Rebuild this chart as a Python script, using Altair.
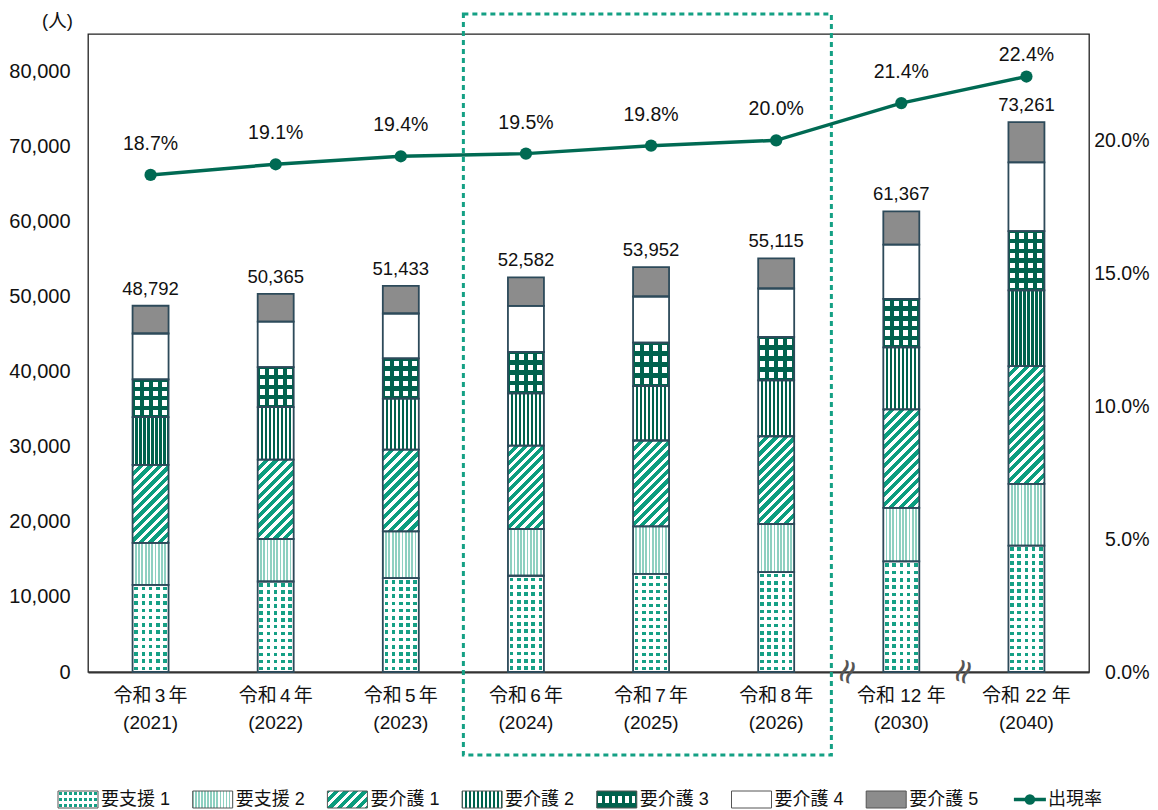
import json
import altair as alt
import pandas as pd

# ---------------- data ----------------
era_labels = ["令和\u20063\u2006年", "令和\u20064\u2006年", "令和\u20065\u2006年", "令和\u20066\u2006年",
              "令和\u20067\u2006年", "令和\u20068\u2006年", "令和 12 年", "令和 22 年"]
years = ["(2021)", "(2022)", "(2023)", "(2024)", "(2025)", "(2026)", "(2030)", "(2040)"]
series_names = ["要支援 1", "要支援 2", "要介護 1", "要介護 2", "要介護 3", "要介護 4", "要介護 5"]

shien1 = [11600, 12060, 12510, 12820, 13080, 13310, 14750, 16850]
shien2 = [5600, 5660, 6220, 6230, 6320, 6410, 7120, 8220]
kaigo1 = [10400, 10580, 10910, 11120, 11440, 11690, 13130, 15680]
kaigo2 = [6350, 6990, 6770, 6950, 7250, 7440, 8250, 10100]
kaigo3 = [5030, 5340, 5380, 5510, 5790, 5780, 6450, 7900]
kaigo4 = [6120, 6060, 5970, 6140, 6150, 6460, 7250, 9150]
kaigo5 = [3692, 3675, 3673, 3812, 3922, 4025, 4417, 5361]
totals = [48792, 50365, 51433, 52582, 53952, 55115, 61367, 73261]
rates = [0.187, 0.191, 0.194, 0.195, 0.198, 0.200, 0.214, 0.224]
rate_name = "出現率"

cats = [f"{a}|{b}" for a, b in zip(era_labels, years)]
series_values = [shien1, shien2, kaigo1, kaigo2, kaigo3, kaigo4, kaigo5]

rows = []
for si, (name, vals) in enumerate(zip(series_names, series_values)):
    for c, v in zip(cats, vals):
        rows.append({"cat": c, "series": name, "order": si, "value": v})
df = pd.DataFrame(rows)
tot_df = pd.DataFrame({"cat": cats, "total": totals})
rate_df = pd.DataFrame({"cat": cats, "rate": rates})
one = pd.DataFrame({"k": [0]})

# ---------------- style / layout ----------------
FONT = "'Liberation Sans', 'Noto Sans CJK JP', sans-serif"
W, H = 1001, 638
YMAX = 85000
RMAX = 0.24
BAND = W / len(cats)
BAR_W = 36

TEAL_DOT = "#15A085"
TEAL_LIGHT = "#8ED0C1"
TEAL_DIAG = "#0B9D7E"
DARK = "#00624D"
GRAY = "#8C8C8C"
LINE = "#006A53"
STROKE = "#2D4A5A"
BOX = "#14A084"
CLEAR = "rgba(255,255,255,0)"
TXT = "#111111"


def periodic_stops(n, line_col, gap_col, gap_frac):
    pts = []
    for k in range(n):
        a = k / n
        b = (k + (1 - gap_frac) / 2) / n
        c = (k + (1 + gap_frac) / 2) / n
        d = (k + 1) / n
        pts += [(a, line_col), (b, line_col), (b, gap_col), (c, gap_col), (c, line_col), (d, line_col)]
    return [alt.GradientStop(color=col, offset=round(min(max(o, 0.0), 1.0), 5)) for o, col in pts]


def grad_x(n, line_col, gap_col, gap_frac):
    return alt.LinearGradient(gradient="linear", stops=periodic_stops(n, line_col, gap_col, gap_frac),
                              x1=0, y1=0.5, x2=1, y2=0.5)


def grad_y(n, line_col, gap_col, gap_frac):
    return alt.LinearGradient(gradient="linear", stops=periodic_stops(n, line_col, gap_col, gap_frac),
                              x1=0.5, y1=0, x2=0.5, y2=1)


def grad_diag(w, h, period, line_col, gap_col, gap_frac):
    n = max(1, round((w + h) / period))
    c = (w + h) / (w * w + h * h)
    return alt.LinearGradient(gradient="linear", stops=periodic_stops(n, line_col, gap_col, gap_frac),
                              x1=0, y1=0, x2=round(c * w, 5), y2=round(c * h, 5))


x_scale = alt.Scale(domain=cats, paddingInner=0, paddingOuter=0)
x_axis = alt.Axis(title=None, labelExpr="split(datum.label, '|')", labelAngle=0, labelFont=FONT,
                  labelFontSize=19, labelLineHeight=27, labelColor=TXT, labelPadding=14,
                  ticks=False, domain=True, domainColor="#333333", domainWidth=2, grid=False)
y_scale = alt.Scale(domain=[0, YMAX], nice=False, zero=True)
y_axis = alt.Axis(values=list(range(0, 80001, 10000)), labelExpr="format(datum.value, ',')",
                  ticks=False, domain=False,
                  grid=False, labelFont=FONT, labelFontSize=20, labelColor=TXT, labelPadding=18,
                  title="(人)", titleAngle=0, titleX=-31, titleY=-14, titleAlign="center",
                  titleBaseline="middle", titleFont=FONT, titleFontSize=18.5, titleFontWeight="normal",
                  titleColor=TXT)
r_scale = alt.Scale(domain=[0, RMAX], nice=False, zero=True)
r_axis = alt.Axis(orient="right", values=[0, 0.05, 0.10, 0.15, 0.20], format=".1%", ticks=False,
                  domain=False, grid=False, labelFont=FONT, labelFontSize=19.5, labelColor=TXT,
                  labelAlign="right", labelPadding=60, title=None)

X_ENC = alt.X("cat:N", scale=x_scale, axis=x_axis)


def stacked():
    return alt.Chart(df).transform_stack(
        stack="value", groupby=["cat"], as_=["y0", "y1"],
        sort=[alt.SortField("order", order="ascending")])


def bar_layer(expr, **mark):
    return stacked().transform_filter(expr).mark_bar(size=BAR_W, **mark).encode(
        x=X_ENC,
        y=alt.Y("y1:Q", scale=y_scale, axis=y_axis),
        y2="y0:Q")


def s_expr(s):
    return f"datum.series == {json.dumps(s)}"


def sc_expr(s, c):
    return f"datum.series == {json.dumps(s)} && datum.cat == {json.dumps(c)}"


def seg_h(v):
    return v / YMAX * H


layers = []

# 要支援1 : dots (teal base + white line grids)
s = series_names[0]
layers.append(bar_layer(s_expr(s), fill=TEAL_DOT, strokeWidth=0))
layers.append(bar_layer(s_expr(s), fill=grad_x(5, "white", CLEAR, 0.5), strokeWidth=0))
for c, v in zip(cats, shien1):
    layers.append(bar_layer(sc_expr(s, c), fill=grad_y(max(1, round(seg_h(v) / 7.2)), "white", CLEAR, 0.5),
                            strokeWidth=0))

# 要支援2 : light vertical stripes
layers.append(bar_layer(s_expr(series_names[1]), fill=grad_x(11, TEAL_LIGHT, "white", 0.45), strokeWidth=0))

# 要介護1 : diagonal stripes
s = series_names[2]
for c, v in zip(cats, kaigo1):
    layers.append(bar_layer(sc_expr(s, c), fill=grad_diag(BAR_W, seg_h(v), 9.5, TEAL_DIAG, "white", 0.45),
                            strokeWidth=0))

# 要介護2 : dark vertical stripes
layers.append(bar_layer(s_expr(series_names[3]), fill=grad_x(9, DARK, "white", 0.42), strokeWidth=0))

# 要介護3 : dark grid with white squares
s = series_names[4]
layers.append(bar_layer(s_expr(s), fill=grad_x(4, DARK, "white", 0.55), strokeWidth=0))
for c, v in zip(cats, kaigo3):
    layers.append(bar_layer(sc_expr(s, c), fill=grad_y(max(1, round(seg_h(v) / 10)), DARK, CLEAR, 0.55),
                            strokeWidth=0))

# 要介護4 / 要介護5
layers.append(bar_layer(s_expr(series_names[5]), fill="white", strokeWidth=0))
layers.append(bar_layer(s_expr(series_names[6]), fill=GRAY, strokeWidth=0))

# outlines
layers.append(stacked().mark_bar(size=BAR_W, fill="white", fillOpacity=0, stroke=STROKE, strokeWidth=1.8).encode(
    x=X_ENC, y=alt.Y("y1:Q", scale=y_scale, axis=y_axis), y2="y0:Q"))

# totals
layers.append(alt.Chart(tot_df).mark_text(baseline="middle", dy=-17, font=FONT, fontSize=18.5, color=TXT).encode(
    x=X_ENC,
    y=alt.Y("total:Q", scale=y_scale, axis=y_axis),
    text=alt.Text("total:Q", format=",")))

# dashed highlight box around 2024-2026
layers.append(alt.Chart(one).mark_rect(fill="white", fillOpacity=0, stroke=BOX, strokeWidth=3,
                                       strokeDash=[5, 4]).encode(
    x=alt.value(3 * BAND), x2=alt.value(3 * BAND + 368), y=alt.value(-20), y2=alt.value(721)))

# axis break marks
for bx in [760, 876]:
    layers.append(alt.Chart(one).mark_text(text="≈", angle=290, font="DejaVu Sans", fontSize=34,
                                           color="#555555", baseline="middle", align="center").encode(
        x=alt.value(bx), y=alt.value(H)))

# legend
LEG_X0 = -30
LEG_STEP = 134.7
LEG_Y = 765.5
SW_W, SW_H = 40, 17
legend_fills = [
    [TEAL_DOT, grad_x(8, "white", CLEAR, 0.5), grad_y(3, "white", CLEAR, 0.5)],
    [grad_x(13, TEAL_LIGHT, "white", 0.45)],
    [grad_diag(SW_W, SW_H, 9.5, TEAL_DIAG, "white", 0.45)],
    [grad_x(10, DARK, "white", 0.42)],
    [grad_x(6, DARK, "white", 0.55), grad_y(1, DARK, CLEAR, 0.4)],
    ["white"],
    [GRAY],
]
for i, (name, fills) in enumerate(zip(series_names, legend_fills)):
    x0 = LEG_X0 + LEG_STEP * i
    for f in fills:
        layers.append(alt.Chart(one).mark_rect(fill=f, strokeWidth=0).encode(
            x=alt.value(x0), x2=alt.value(x0 + SW_W),
            y=alt.value(LEG_Y - SW_H / 2), y2=alt.value(LEG_Y + SW_H / 2)))
    layers.append(alt.Chart(one).mark_rect(fill="white", fillOpacity=0, stroke="#555555", strokeWidth=1).encode(
        x=alt.value(x0), x2=alt.value(x0 + SW_W),
        y=alt.value(LEG_Y - SW_H / 2), y2=alt.value(LEG_Y + SW_H / 2)))
    layers.append(alt.Chart(one).mark_text(align="left", baseline="middle", font=FONT, fontSize=18,
                                           color=TXT).encode(
        x=alt.value(x0 + SW_W + 3), y=alt.value(LEG_Y), text=alt.value(name)))

lx0 = LEG_X0 + LEG_STEP * 7 + 13
layers.append(alt.Chart(one).mark_rule(color=LINE, strokeWidth=3.5).encode(
    x=alt.value(lx0), x2=alt.value(lx0 + 32), y=alt.value(LEG_Y)))
layers.append(alt.Chart(one).mark_circle(color=LINE, opacity=1, size=110).encode(
    x=alt.value(lx0 + 16), y=alt.value(LEG_Y)))
layers.append(alt.Chart(one).mark_text(align="left", baseline="middle", font=FONT, fontSize=18,
                                       color=TXT).encode(
    x=alt.value(lx0 + 34), y=alt.value(LEG_Y), text=alt.value(rate_name)))

bars_group = alt.layer(*layers)

# rate line
rate_base = alt.Chart(rate_df).encode(
    x=X_ENC,
    y=alt.Y("rate:Q", scale=r_scale, axis=r_axis))
line = rate_base.mark_line(color=LINE, strokeWidth=3.5)
pts = rate_base.mark_circle(color=LINE, opacity=1, size=150)
rate_text = rate_base.transform_filter("datum.rate < 0.22").mark_text(
    baseline="middle", dy=-31, font=FONT, fontSize=19.5, color=TXT).encode(
    text=alt.Text("rate:Q", format=".1%"))
rate_text_top = rate_base.transform_filter("datum.rate >= 0.22").mark_text(
    baseline="middle", dy=-22, font=FONT, fontSize=19.5, color=TXT).encode(
    text=alt.Text("rate:Q", format=".1%"))
line_group = alt.layer(line, pts, rate_text, rate_text_top)

chart = alt.layer(bars_group, line_group).resolve_scale(y="independent").properties(
    width=W, height=H,
    padding={"left": 80, "top": 26, "right": 61, "bottom": 140},
    autosize=alt.AutoSizeParams(type="none"),
).configure_view(stroke="#222222", strokeWidth=1.3)

chart.save("out.html", embed_options={"renderer": "svg", "actions": False})
